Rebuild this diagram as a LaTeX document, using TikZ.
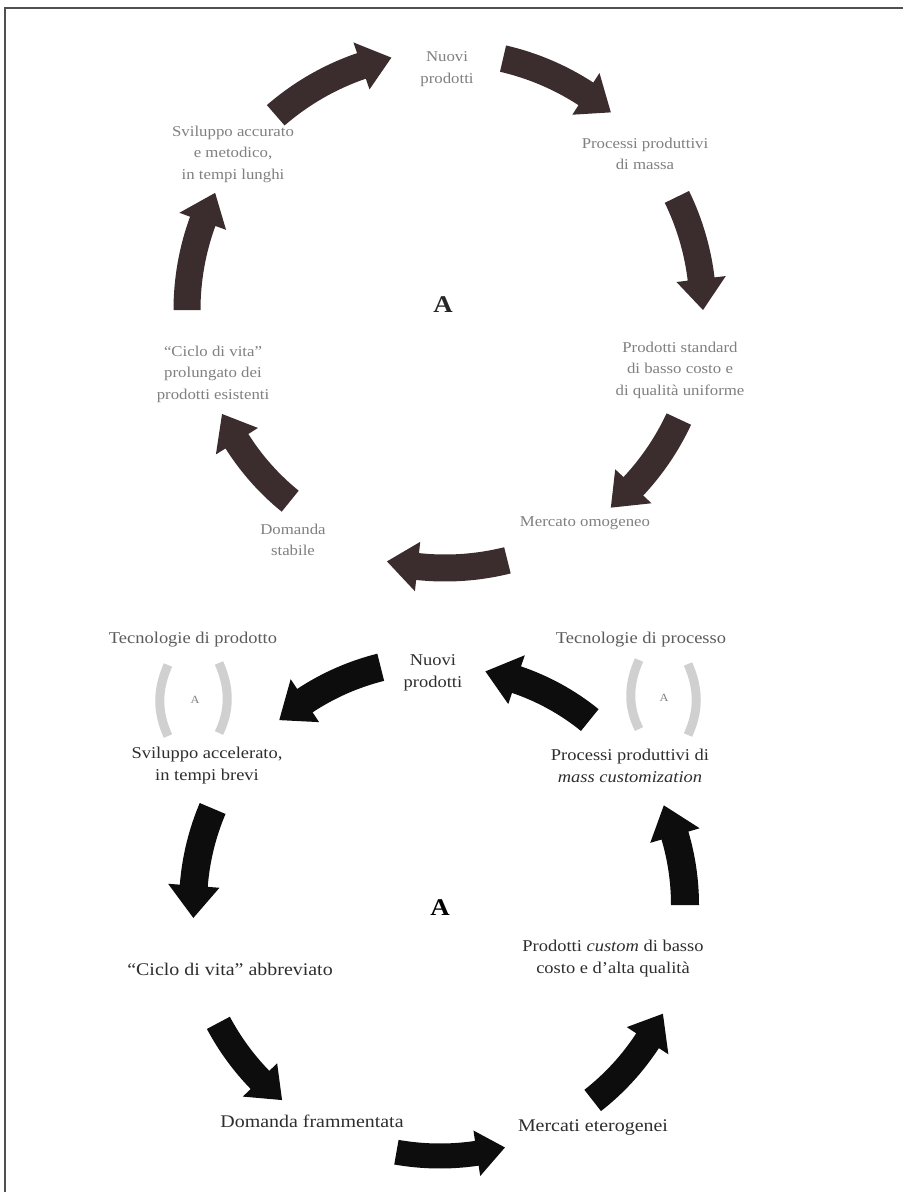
\documentclass[tikz,border=0pt]{standalone}
\usepackage{fontspec}
\setmainfont{Liberation Serif}[FakeStretch=1.12]
\usetikzlibrary{calc}
\definecolor{arrowbrown}{HTML}{3B2D2E}
\definecolor{arrowblack}{HTML}{0D0D0D}
\definecolor{toptxt}{HTML}{808080}
\definecolor{bottxt}{HTML}{2E2E2E}
\definecolor{techtxt}{HTML}{5C5C5C}
\definecolor{iconclr}{HTML}{D0D0D0}
\definecolor{framegray}{HTML}{505050}

% fat curved arrow: center, radius, start angle, end angle, shaft width, style
\newcommand\fatarc[6]{%
  \pgfmathsetmacro\faS{#3}%
  \pgfmathsetmacro\faE{#4}%
  \pgfmathsetmacro\faM{\faE-1.15*(#5)/(#2)*57.2958*sign(\faE-\faS)}%
  \pgfmathsetmacro\faRo{#2+(#5)/2}%
  \pgfmathsetmacro\faRi{#2-(#5)/2}%
  \pgfmathsetmacro\faHo{#2+0.92*(#5)}%
  \pgfmathsetmacro\faHi{#2-0.92*(#5)}%
  \fill[#6] ($(#1)+(\faS:\faRo pt)$) arc[start angle=\faS,end angle=\faM,radius=\faRo pt]
    -- ($(#1)+(\faM:\faHo pt)$) -- ($(#1)+(\faE:#2 pt)$) -- ($(#1)+(\faM:\faHi pt)$)
    -- ($(#1)+(\faM:\faRi pt)$) arc[start angle=\faM,end angle=\faS,radius=\faRi pt] -- cycle;
}

\tikzset{
  toplbl/.style={text=toptxt, font=\fontsize{15}{21.5}\selectfont, align=center, inner sep=0pt},
  botlbl/.style={text=bottxt, font=\fontsize{16.5}{22}\selectfont, align=center, inner sep=0pt},
  lowlbl/.style={botlbl, font=\fontsize{17.8}{22}\selectfont},
  techlbl/.style={text=techtxt, font=\fontsize{16.5}{22}\selectfont, inner sep=0pt},
  biga/.style={font=\bfseries\fontsize{24}{24}\selectfont, inner sep=0pt},
  icona/.style={font=\fontsize{11}{11}\selectfont, text=gray, inner sep=0pt},
  iconbr/.style={draw=iconclr, line width=9pt},
  topar/.style={fill=arrowbrown},
  botar/.style={fill=arrowblack},
  frame/.style={draw=framegray, line width=1.6pt},
}

\begin{document}
\begin{tikzpicture}[x=1pt,y=1pt]
\useasboundingbox (0,0) rectangle (903,-1192);
\fill[white] (0,0) rectangle (903,-1192);
\draw[frame] (903,-8) -- (5,-8) -- (5,-1192);

% ---------- top cycle ----------
\coordinate (C1) at (445,-310);
\fatarc{C1}{258}{131}{102}{27}{topar}
\fatarc{C1}{258}{77}{50}{27}{topar}
\fatarc{C1}{258}{26}{0}{27}{topar}
\fatarc{C1}{258}{-25}{-50}{27}{topar}
\fatarc{C1}{258}{-76}{-103}{27}{topar}
\fatarc{C1}{246}{-129}{-155}{27}{topar}
\fatarc{C1}{258}{180}{153}{27}{topar}

\node[toplbl] (t1) at (447,-69) {Nuovi\\prodotti};
\node[toplbl] (t2) at (645,-154) {Processi produttivi\\di massa};
\node[toplbl] (t3) at (680,-370) {Prodotti standard\\di basso costo e\\di qualità uniforme};
\node[toplbl] (t4) at (585,-523) {Mercato omogeneo};
\node[toplbl] (t5) at (293,-540) {Domanda\\stabile};
\node[toplbl] (t6) at (213,-374) {“Ciclo di vita”\\prolungato dei\\prodotti esistenti};
\node[toplbl] (t7) at (233,-154) {Sviluppo accurato\\e metodico,\\in tempi lunghi};
\node[biga, text=black!85] (ta) at (443,-305) {A};

% ---------- bottom cycle ----------
\coordinate (C2) at (440,-905);
\fatarc{C2}{245}{104}{131}{28}{botar}
\fatarc{C2}{247}{157}{183}{28}{botar}
\fatarc{C2}{251}{208}{231}{26}{botar}
\fatarc{C2}{251}{260}{285}{25}{botar}
\fatarc{C2}{248}{308}{334}{27}{botar}
\fatarc{C2}{245}{0}{24}{28}{botar}
\fatarc{C2}{238}{51}{79}{28}{botar}

\node[techlbl] (k1) at (193,-640) {Tecnologie di prodotto};
\node[techlbl] (k2) at (641,-640) {Tecnologie di processo};
\node[icona] (i1) at (195,-700) {A};
\draw[iconbr] (168,-665) .. controls (157,-690) and (157,-712) .. (168,-736);
\draw[iconbr] (219,-663) .. controls (230,-688) and (230,-710) .. (219,-733);
\node[icona] (i2) at (664,-698) {A};
\draw[iconbr] (639,-660) .. controls (628,-685) and (628,-707) .. (639,-729);
\draw[iconbr] (688,-664) .. controls (699,-689) and (699,-711) .. (688,-735);

\node[botlbl] (b1) at (433,-673) {Nuovi\\prodotti};
\node[botlbl] (b2) at (207,-766) {Sviluppo accelerato,\\in tempi brevi};
\node[botlbl] (b3) at (630,-766) {Processi produttivi di\\\textit{mass customization}};
\node[biga, text=black] (ba) at (440,-908) {A};
\node[lowlbl] (b4) at (230,-969) {“Ciclo di vita” abbreviato};
\node[botlbl] (b5) at (613,-959) {Prodotti \textit{custom} di basso\\costo e d’alta qualità};
\node[lowlbl] (b6) at (312,-1121) {Domanda frammentata};
\node[lowlbl] (b7) at (593,-1128) {Mercati eterogenei};
\end{tikzpicture}
\end{document}
